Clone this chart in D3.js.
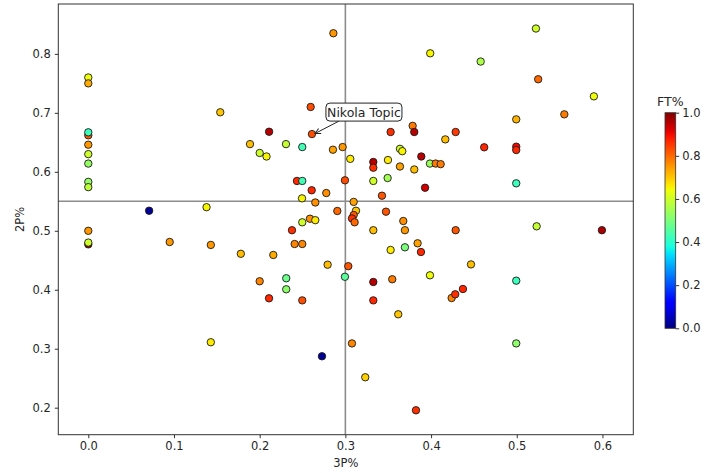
<!DOCTYPE html>
<html>
<head>
<meta charset="utf-8">
<script src="https://cdn.jsdelivr.net/npm/d3@7"></script>
<style>
	body { margin: 0; background: #fff; }
	svg text { font-family: "DejaVu Sans", sans-serif; fill: #262626; }
</style>
</head>
<body>
<div id="chart"></div>
<script>
// 3P%, 2P% and FT% for each player
const threePct = [
	0, 0, 0, 0, 0, 0, 0, 0, 0, 0, 0, 0,
	0.154, 0.071, 0.138, 0.095, 0.143, 0.178, 0.143,
	0.286, 0.399, 0.2595, 0.261, 0.211, 0.1887, 0.200, 0.208, 0.2307, 0.2497,
	0.2855, 0.2968, 0.3057, 0.3326, 0.3326, 0.3497, 0.3637, 0.3664, 0.3637,
	0.3785, 0.3804, 0.3528, 0.3804, 0.3886, 0.3987, 0.4054, 0.4112, 0.4166,
	0.4287, 0.393, 0.3493, 0.3326, 0.2995, 0.2435, 0.2497, 0.2607, 0.2777,
	0.3427, 0.2494, 0.2649, 0.3097, 0.2906, 0.3124, 0.3474, 0.3097, 0.3077,
	0.3108, 0.2587, 0.2649, 0.2497, 0.3676, 0.2377, 0.3326, 0.3695, 0.4287,
	0.5224, 0.4579, 0.525, 0.590, 0.5555, 0.4994, 0.462, 0.4994, 0.4994,
	0.4994, 0.5232, 0.5994, 0.2408, 0.2497, 0.2159, 0.2793, 0.3034, 0.3528,
	0.3695, 0.3843, 0.3882, 0.4466, 0.200, 0.231, 0.231, 0.2109, 0.2497,
	0.2995, 0.3326, 0.3326, 0.3547, 0.3987, 0.424, 0.4282, 0.4372, 0.3617,
	0.3077, 0.2727, 0.3232, 0.3824, 0.4994, 0.4994
];
const twoPct = [
	0.76, 0.75, 0.662, 0.667, 0.646, 0.630, 0.614, 0.583, 0.574, 0.500, 0.477, 0.480,
	0.701, 0.534, 0.540, 0.481, 0.476, 0.461, 0.311,
	0.835, 0.801, 0.710, 0.664, 0.668, 0.647, 0.632, 0.626, 0.647, 0.642,
	0.6375, 0.642, 0.622, 0.6167, 0.607, 0.620, 0.639, 0.635, 0.609,
	0.678, 0.6675, 0.6675, 0.604, 0.626, 0.614, 0.614, 0.613, 0.655,
	0.6675, 0.573, 0.5895, 0.5845, 0.5856, 0.5845, 0.5845, 0.5687, 0.564,
	0.5595, 0.555, 0.548, 0.549, 0.5336, 0.534, 0.5324, 0.5268, 0.521,
	0.5144, 0.5205, 0.518, 0.5144, 0.5166, 0.501, 0.501, 0.501, 0.501,
	0.843, 0.787, 0.757, 0.728, 0.6975, 0.689, 0.6416, 0.6426, 0.637,
	0.5805, 0.5076, 0.501, 0.4776, 0.4776, 0.459, 0.4425, 0.440, 0.4675,
	0.472, 0.4788, 0.464, 0.443, 0.4144, 0.4195, 0.4008, 0.3855, 0.382,
	0.422, 0.4132, 0.382, 0.4178, 0.4245, 0.386, 0.3923, 0.4013, 0.3584,
	0.309, 0.2872, 0.2516, 0.1956, 0.4154, 0.309
];
const ftPct = [
	0.64, 0.73, 0.82, 0.42, 0.75, 0.60, 0.53, 0.53, 0.58, 0.75, 0.98, 0.60,
	0.70, 0.02, 0.65, 0.75, 0.75, 0.71, 0.66,
	0.75, 0.65, 0.83, 0.83, 0.95, 0.71, 0.60, 0.65, 0.59, 0.43,
	0.74, 0.75, 0.66, 0.95, 0.86, 0.66, 0.60, 0.65, 0.74,
	0.78, 0.95, 0.86, 0.71, 0.95, 0.54, 0.78, 0.78, 0.71,
	0.85, 0.93, 0.55, 0.60, 0.83, 0.87, 0.43, 0.87, 0.76,
	0.82, 0.65, 0.76, 0.74, 0.80, 0.70, 0.82, 0.82, 0.86,
	0.80, 0.76, 0.66, 0.60, 0.76, 0.86, 0.71, 0.75, 0.82,
	0.60, 0.56, 0.80, 0.64, 0.78, 0.72, 0.87, 0.90, 0.87,
	0.42, 0.59, 0.96, 0.77, 0.77, 0.73, 0.71, 0.82, 0.66,
	0.50, 0.74, 0.87, 0.71, 0.77, 0.48, 0.52, 0.87, 0.83,
	0.46, 0.95, 0.87, 0.78, 0.64, 0.77, 0.86, 0.87, 0.70,
	0.77, 0.02, 0.69, 0.86, 0.42, 0.52
];
const xTicks = [0.0, 0.1, 0.2, 0.3, 0.4, 0.5, 0.6];
const yTicks = [0.2, 0.3, 0.4, 0.5, 0.6, 0.7, 0.8];
const cbTicks = [0.0, 0.2, 0.4, 0.6, 0.8, 1.0];
const refX = 0.3;
const refY = 0.55;
const labelIndex = 22;
const labelText = 'Nikola Topic';

// matplotlib jet, piecewise linear per channel
const jetR = [[0, 0], [0.35, 0], [0.66, 1], [0.89, 1], [1, 0.5]];
const jetG = [[0, 0], [0.125, 0], [0.375, 1], [0.64, 1], [0.91, 0], [1, 0]];
const jetB = [[0, 0.5], [0.11, 1], [0.34, 1], [0.65, 0], [1, 0]];
function channel(pts, t) {
	for (let i = 1; i < pts.length; i++) {
		if (t <= pts[i][0]) {
			const a = pts[i - 1], b = pts[i];
			return a[1] + (b[1] - a[1]) * (t - a[0]) / (b[0] - a[0]);
		}
	}
	return pts[pts.length - 1][1];
}
function jet(t) {
	t = Math.max(0, Math.min(1, t));
	return d3.rgb(channel(jetR, t) * 255, channel(jetG, t) * 255, channel(jetB, t) * 255).formatHex();
}

const width = 711, height = 473;
const plot = { left: 58.3, right: 633.3, top: 4, bottom: 434.7 };

const svg = d3.select('#chart').append('svg')
	.attr('width', width)
	.attr('height', height);

const x = d3.scaleLinear().domain([-0.035, 0.636]).range([plot.left, plot.right]);
const y = d3.scaleLinear().domain([0.1542, 0.8846]).range([plot.bottom, plot.top]);

// axes
svg.append('g')
	.attr('transform', `translate(0,${plot.bottom})`)
	.call(d3.axisBottom(x).tickValues(xTicks).tickFormat(d3.format('.1f')).tickSizeOuter(0).tickSize(3.5).tickPadding(4))
	.call(g => g.select('.domain').remove())
	.call(g => g.selectAll('line').attr('stroke', '#333'))
	.call(g => g.selectAll('text').attr('font-size', 11.5).attr('fill', '#262626'));

svg.append('g')
	.attr('transform', `translate(${plot.left},0)`)
	.call(d3.axisLeft(y).tickValues(yTicks).tickFormat(d3.format('.1f')).tickSizeOuter(0).tickSize(3.5).tickPadding(4))
	.call(g => g.select('.domain').remove())
	.call(g => g.selectAll('line').attr('stroke', '#333'))
	.call(g => g.selectAll('text').attr('font-size', 11.5).attr('fill', '#262626'));

// reference lines
svg.append('line')
	.attr('x1', x(refX)).attr('x2', x(refX))
	.attr('y1', plot.top).attr('y2', plot.bottom)
	.attr('stroke', '#8c8c8c').attr('stroke-width', 1.6);
svg.append('line')
	.attr('x1', plot.left).attr('x2', plot.right)
	.attr('y1', y(refY)).attr('y2', y(refY))
	.attr('stroke', '#8c8c8c').attr('stroke-width', 1.6);

// points
const data = threePct.map((d, i) => ({ x: d, y: twoPct[i], ft: ftPct[i] }));
svg.append('g')
	.selectAll('circle')
	.data(data)
	.enter().append('circle')
	.attr('cx', d => x(d.x))
	.attr('cy', d => y(d.y))
	.attr('r', 3.7)
	.attr('fill', d => jet(d.ft))
	.attr('stroke', '#1a1a1a')
	.attr('stroke-width', 0.9);

// frame
svg.append('rect')
	.attr('x', plot.left).attr('y', plot.top)
	.attr('width', plot.right - plot.left).attr('height', plot.bottom - plot.top)
	.attr('fill', 'none').attr('stroke', '#333').attr('stroke-width', 1);

// axis labels
svg.append('text')
	.attr('x', (plot.left + plot.right) / 2).attr('y', 467)
	.attr('text-anchor', 'middle').attr('font-size', 11.5)
	.text('3P%');
svg.append('text')
	.attr('transform', `translate(24,${(plot.top + plot.bottom) / 2}) rotate(-90)`)
	.attr('text-anchor', 'middle').attr('font-size', 11.5)
	.text('2P%');

// annotation
const target = data[labelIndex];
const tx = x(target.x), ty = y(target.y);
const boxX = tx + 14, boxY = ty - 31, boxW = 76, boxH = 18;
svg.append('defs').append('marker')
	.attr('id', 'arrow')
	.attr('viewBox', '0 0 10 10')
	.attr('refX', 9).attr('refY', 5)
	.attr('markerWidth', 7).attr('markerHeight', 7)
	.attr('orient', 'auto')
	.append('path')
	.attr('d', 'M1,1 L9,5 L1,9')
	.attr('fill', 'none').attr('stroke', '#222').attr('stroke-width', 1.4);
svg.append('line')
	.attr('x1', boxX + 13).attr('y1', boxY + boxH)
	.attr('x2', tx + 3).attr('y2', ty - 0.5)
	.attr('stroke', '#222').attr('stroke-width', 1)
	.attr('marker-end', 'url(#arrow)');
svg.append('rect')
	.attr('x', boxX).attr('y', boxY)
	.attr('width', boxW).attr('height', boxH)
	.attr('rx', 4)
	.attr('fill', '#fff').attr('stroke', '#222').attr('stroke-width', 1);
svg.append('text')
	.attr('x', boxX + boxW / 2).attr('y', boxY + 13.5)
	.attr('text-anchor', 'middle').attr('font-size', 12.5)
	.text(labelText);

// colorbar
const cb = { left: 665, width: 10.7, top: 112.7, bottom: 328.3 };
const grad = svg.select('defs').append('linearGradient')
	.attr('id', 'jetgrad')
	.attr('x1', 0).attr('y1', 1).attr('x2', 0).attr('y2', 0);
d3.range(0, 1.0001, 0.02).forEach(t => {
	grad.append('stop').attr('offset', t).attr('stop-color', jet(t));
});
svg.append('rect')
	.attr('x', cb.left).attr('y', cb.top)
	.attr('width', cb.width).attr('height', cb.bottom - cb.top)
	.attr('fill', 'url(#jetgrad)')
	.attr('stroke', '#333').attr('stroke-width', 0.8);
const cbScale = d3.scaleLinear().domain([0, 1]).range([cb.bottom, cb.top]);
svg.append('g')
	.attr('transform', `translate(${cb.left + cb.width},0)`)
	.call(d3.axisRight(cbScale).tickValues(cbTicks).tickFormat(d3.format('.1f')).tickSize(3.5).tickPadding(3))
	.call(g => g.select('.domain').remove())
	.call(g => g.selectAll('line').attr('stroke', '#333'))
	.call(g => g.selectAll('text').attr('font-size', 11.5).attr('fill', '#262626'));
svg.append('text')
	.attr('x', cb.left + cb.width / 2).attr('y', 106)
	.attr('text-anchor', 'middle').attr('font-size', 12.5)
	.text('FT%');
</script>
</body>
</html>
